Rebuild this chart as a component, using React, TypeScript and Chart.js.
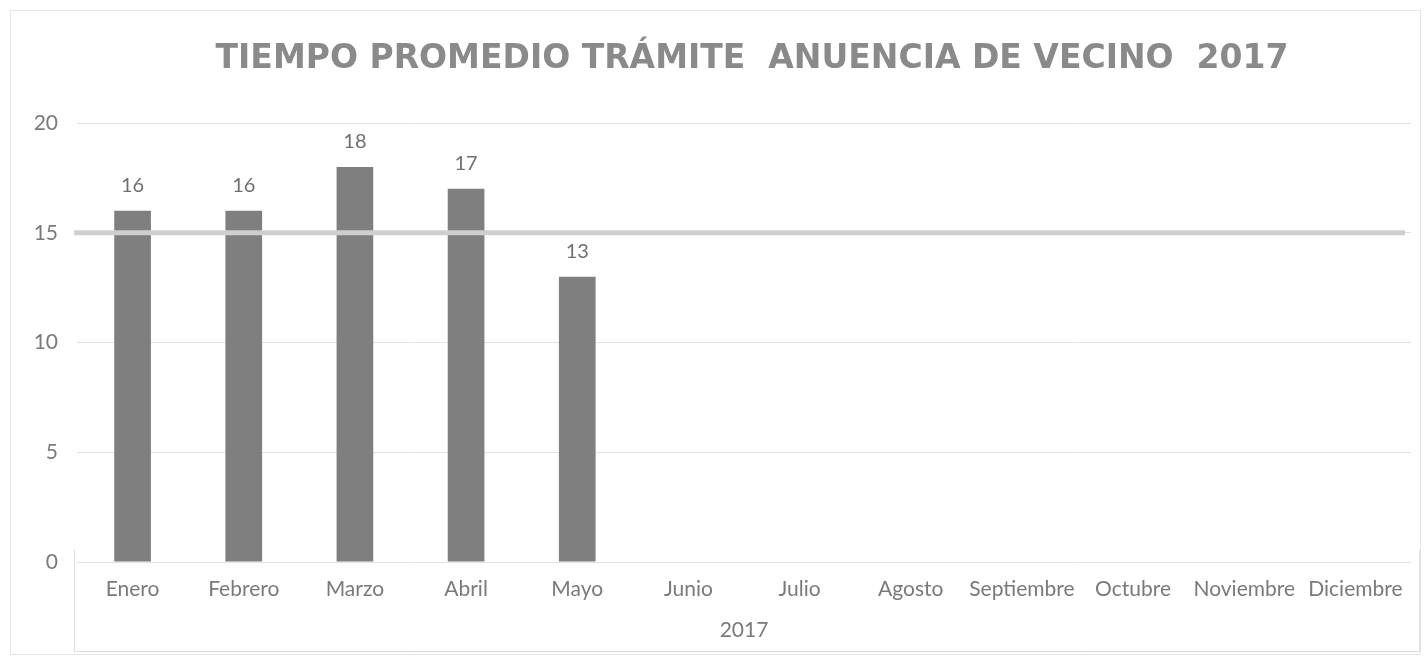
import React, { useEffect, useRef } from "react";
import { Chart, registerables } from "chart.js";

Chart.register(...registerables);

const chartTitle = "TIEMPO PROMEDIO TRÁMITE  ANUENCIA DE VECINO  2017";
const categories = [
  "Enero", "Febrero", "Marzo", "Abril", "Mayo", "Junio",
  "Julio", "Agosto", "Septiembre", "Octubre", "Noviembre", "Diciembre",
];
const groupLabel = "2017";
const tiempoPromedio = [16, 16, 18, 17, 13, null, null, null, null, null, null, null];
const metaValue = [15];
const yTicks = [0, 5, 10, 15, 20];

const FONT = "Lato, 'Open Sans', sans-serif";

const decorPlugin = {
  id: "decor",
  beforeDatasetsDraw(chart: any) {
    const { ctx, chartArea } = chart;
    ctx.save();
    ctx.strokeStyle = "#e6e6e6";
    ctx.lineWidth = 1;
    ctx.strokeRect(10.5, 10.5, 1410, 644);
    ctx.strokeStyle = "#dcdcdc";
    ctx.beginPath();
    ctx.moveTo(chartArea.left - 2.5, chartArea.bottom - 12);
    ctx.lineTo(chartArea.left - 2.5, 651.5);
    ctx.lineTo(1419.5, 651.5);
    ctx.lineTo(1419.5, chartArea.bottom - 12);
    ctx.stroke();
    ctx.restore();
  },
  afterDatasetsDraw(chart: any) {
    const { ctx, chartArea, scales } = chart;
    ctx.save();
    const y = scales.y.getPixelForValue(metaValue[0]);
    ctx.strokeStyle = "#cfcfcf";
    ctx.lineWidth = 5;
    ctx.beginPath();
    ctx.moveTo(chartArea.left - 3, y);
    ctx.lineTo(chartArea.right - 6, y);
    ctx.stroke();
    const meta = chart.getDatasetMeta(0);
    ctx.fillStyle = "#707070";
    ctx.font = `20px ${FONT}`;
    ctx.textAlign = "center";
    ctx.textBaseline = "bottom";
    meta.data.forEach((bar: any, i: number) => {
      const v = tiempoPromedio[i];
      if (v == null) return;
      ctx.fillText(String(v), bar.x, bar.y - 15);
    });
    ctx.fillStyle = "#8a8a8a";
    ctx.font = `bold 33px 'DejaVu Sans', sans-serif`;
    ctx.textBaseline = "middle";
    ctx.fillText(chartTitle, 752, 59);
    ctx.restore();
  },
};

export default function App() {
  const ref = useRef<HTMLCanvasElement>(null);
  useEffect(() => {
    document.body.style.margin = "0";
    const chart = new Chart(ref.current!, {
      type: "bar",
      data: {
        labels: categories,
        datasets: [
          {
            label: "Tiempo promedio",
            data: tiempoPromedio as any,
            backgroundColor: "#7f7f7f",
            barPercentage: 0.33,
            categoryPercentage: 1,
          },
        ],
      },
      options: {
        animation: false,
        responsive: false,
        layout: { padding: { top: 123, left: 0, right: 16, bottom: 0 } },
        plugins: {
          legend: { display: false },
          title: { display: false },
          tooltip: { enabled: false },
        },
        scales: {
          x: {
            grid: { display: false },
            border: { display: false },
            ticks: { color: "#7a7a7a", font: { family: FONT, size: 21 }, padding: 7, maxRotation: 0, autoSkip: false },
            title: { display: true, text: groupLabel, color: "#7a7a7a", font: { family: FONT, size: 21 }, padding: { top: 4, bottom: 14 } },
            afterFit: (s: any) => { s.height = 95; },
          },
          y: {
            min: 0,
            max: 20,
            afterBuildTicks: (s: any) => { s.ticks = yTicks.map((v) => ({ value: v })); },
            grid: { color: "#e2e2e2", drawTicks: false },
            border: { display: false },
            ticks: { color: "#7a7a7a", font: { family: FONT, size: 21 }, padding: 19 },
            afterFit: (s: any) => { s.width = 77; },
          },
        },
      },
      plugins: [decorPlugin],
    });
    return () => chart.destroy();
  }, []);
  return (
    <div style={{ width: 1427, height: 657, background: "#fff" }}>
      <canvas ref={ref} width={1427} height={657} style={{ display: "block" }} />
    </div>
  );
}
